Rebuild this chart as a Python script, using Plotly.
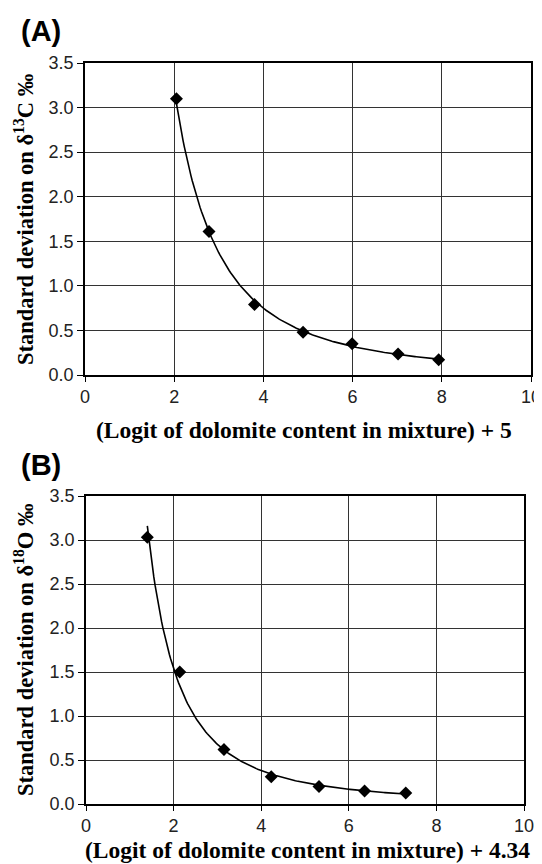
import numpy as np
import plotly.graph_objects as go

# Panel A data
xa = [2.05, 2.78, 3.80, 4.89, 5.99, 7.02, 7.93]
ya = [3.10, 1.61, 0.79, 0.48, 0.35, 0.235, 0.17]
# Panel B data
xb = [1.40, 2.14, 3.15, 4.23, 5.32, 6.36, 7.30]
yb = [3.03, 1.50, 0.62, 0.31, 0.20, 0.147, 0.124]

x_ticks = [0, 2, 4, 6, 8, 10]
y_ticks = [0.0, 0.5, 1.0, 1.5, 2.0, 2.5, 3.0, 3.5]
y_tick_text = ["%.1f" % v for v in y_ticks]

titles_y = ["Standard deviation on δ<sup>13</sup>C ‰", "Standard deviation on δ<sup>18</sup>O ‰"]
titles_x = ["(Logit of dolomite content in mixture) + 5", "(Logit of dolomite content in mixture) + 4.34"]
panel_labels = ["(A)", "(B)"]


def power_fit(x, y):
    b, ln_a = np.polyfit(np.log(x), np.log(y), 1)
    xs = np.linspace(min(x), max(x), 200)
    return xs, np.exp(ln_a) * xs ** b


# page body has an 8px margin, so the figure is shifted by OFF px
OFF = 8
W, H = 542 - OFF, 864 - OFF


def px(x):
    return (x - OFF) / W


def py(y):
    return 1 - (y - OFF) / H


fig = go.Figure()

panels = [
    dict(x=xa, y=ya, xd=[px(85), px(531)], yd=[py(375), py(63)], lab_y=31, xt_y=430, xt_x=304),
    dict(x=xb, y=yb, xd=[px(86), px(524)], yd=[py(804), py(496)], lab_y=465, xt_y=850, xt_x=307),
]

annotations = []
for i, p in enumerate(panels):
    xs, ys = power_fit(p["x"], p["y"])
    xa_name = "x" if i == 0 else "x2"
    ya_name = "y" if i == 0 else "y2"
    fig.add_trace(go.Scatter(x=xs, y=ys, mode="lines", line=dict(color="black", width=1.6),
                             xaxis=xa_name, yaxis=ya_name, showlegend=False, hoverinfo="skip"))
    fig.add_trace(go.Scatter(x=p["x"], y=p["y"], mode="markers",
                             marker=dict(symbol="diamond", size=10, color="black"),
                             xaxis=xa_name, yaxis=ya_name, showlegend=False))
    axis_common = dict(showgrid=True, gridcolor="#333333", gridwidth=1, zeroline=False,
                       showline=True, linecolor="black", linewidth=1.5, mirror=True,
                       ticks="outside", tickcolor="black", automargin=False,
                       tickfont=dict(family="Liberation Sans, Arial", size=18, color="#222"))
    fig.update_layout(**{
        ("xaxis" if i == 0 else "xaxis2"): dict(domain=p["xd"], range=[0, 10], tickvals=x_ticks,
                                                ticklen=5, anchor=ya_name, **axis_common),
        ("yaxis" if i == 0 else "yaxis2"): dict(domain=p["yd"], range=[0, 3.5], tickvals=y_ticks,
                                                ticktext=y_tick_text, ticklen=6, anchor=xa_name,
                                                **axis_common),
    })
    ytop = p["yd"][1]
    ybot = p["yd"][0]
    annotations.append(dict(text="<b>%s</b>" % panel_labels[i], x=px(19), y=py(p["lab_y"]),
                            xref="paper", yref="paper", xanchor="left", yanchor="middle", showarrow=False,
                            font=dict(family="Liberation Sans, Arial", size=29, color="black")))
    annotations.append(dict(text="<b>%s</b>" % titles_x[i], x=px(p["xt_x"]), y=py(p["xt_y"]),
                            xref="paper", yref="paper", xanchor="center", yanchor="middle", showarrow=False,
                            font=dict(family="Liberation Serif, Times New Roman", size=23.5, color="black")))
    annotations.append(dict(text="<b>%s</b>" % titles_y[i], x=px(24), y=(ytop + ybot) / 2,
                            xref="paper", yref="paper", xanchor="center", yanchor="middle", showarrow=False,
                            textangle=-90,
                            font=dict(family="Liberation Serif, Times New Roman", size=22.5, color="black")))

fig.update_layout(width=W, height=H, margin=dict(l=0, r=0, t=0, b=0),
                  paper_bgcolor="white", plot_bgcolor="white", annotations=annotations)
fig.write_html("out.html")
